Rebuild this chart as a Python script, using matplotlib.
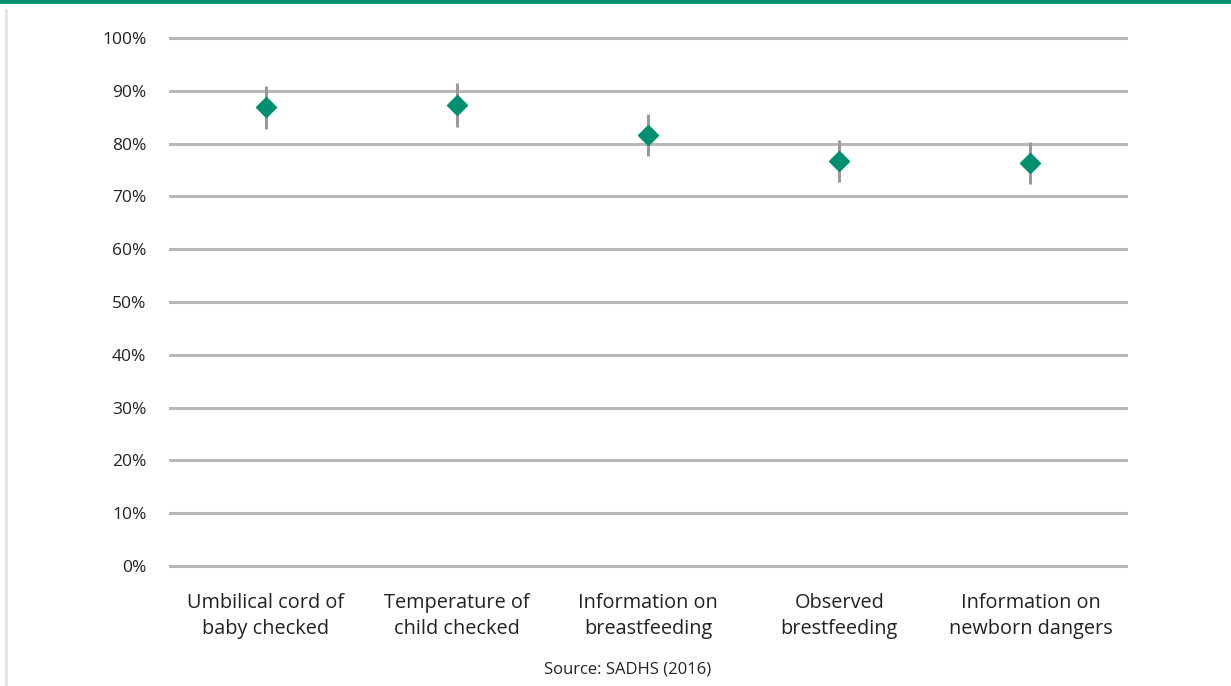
import matplotlib.pyplot as plt
from matplotlib.lines import Line2D

# Data
categories = ["Umbilical cord of\nbaby checked", "Temperature of\nchild checked",
              "Information on\nbreastfeeding", "Observed\nbrestfeeding",
              "Information on\nnewborn dangers"]
values = [87.0, 87.3, 81.6, 76.8, 76.4]
err_low = [4.3, 4.2, 4.0, 4.0, 4.0]
err_high = [3.9, 4.2, 4.0, 3.9, 3.9]
yticks = [0, 10, 20, 30, 40, 50, 60, 70, 80, 90, 100]

green = "#00906F"
grid_gray = "#B8B8B8"
err_gray = "#9A9A9A"

plt.rcParams["font.family"] = ["Open Sans", "DejaVu Sans"]

fig = plt.figure(figsize=(12.31, 6.86), dpi=100)
ax = fig.add_axes([0.1381, 0.1749, 0.7766, 0.7697])

x = list(range(len(categories)))
ax.errorbar(x, values, yerr=[err_low, err_high], fmt="none",
            ecolor=err_gray, elinewidth=2.2, capsize=0, zorder=3)
ax.plot(x, values, linestyle="none", marker="D", markersize=10.5,
        color=green, zorder=4)

ax.set_xlim(-0.5, len(categories) - 0.5)
ax.set_ylim(0, 100)
ax.set_yticks(yticks)
ax.set_yticklabels([f"{t}%" for t in yticks], fontsize=12.5, color="#222222")
ax.set_xticks(x)
ax.set_xticklabels(categories, fontsize=14.3, color="#222222", linespacing=1.38)
ax.tick_params(axis="both", length=0)
ax.tick_params(axis="y", pad=17)
ax.tick_params(axis="x", pad=19.5)

for t in yticks:
    ax.axhline(t, color=grid_gray, linewidth=2.2, zorder=1, clip_on=False)

for s in ax.spines.values():
    s.set_visible(False)

# decorations
fig.add_artist(Line2D([0, 1], [0.998, 0.998], transform=fig.transFigure,
                      color=green, linewidth=3.5))
fig.add_artist(Line2D([0.0045, 0.0045], [0, 0.985], transform=fig.transFigure,
                      color="#E3E3E3", linewidth=1.8))

fig.text(0.51, 0.024, "Source: SADHS (2016)", ha="center", va="center",
         fontsize=12, color="#222222")

fig.savefig("out.png", dpi=100)
